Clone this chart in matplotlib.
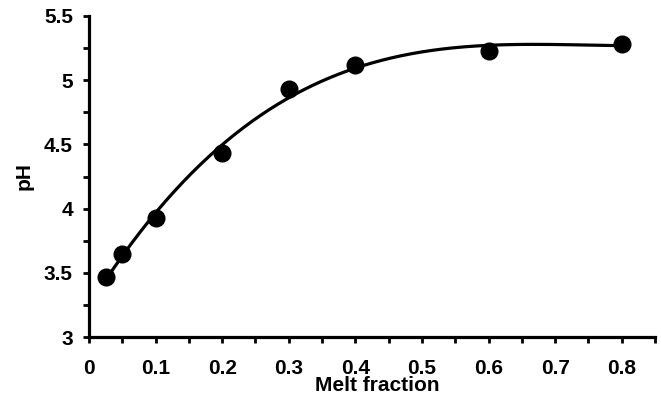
import numpy as np
import matplotlib
matplotlib.use("Agg")
import matplotlib.pyplot as plt
from matplotlib.ticker import MultipleLocator, FuncFormatter

# measured values
melt_fraction = [0.025, 0.05, 0.1, 0.2, 0.3, 0.4, 0.6, 0.8]
ph = [3.47, 3.645, 3.925, 4.435, 4.93, 5.12, 5.23, 5.28]

plt.rcParams["font.family"] = ["Liberation Sans", "DejaVu Sans"]
plt.rcParams["font.weight"] = "bold"

fig = plt.figure(figsize=(6.61, 3.98), dpi=100)
ax = fig.add_axes([0.1346, 0.153, 0.991 - 0.1346, 0.960 - 0.153])

# polynomial trendline (3rd order) through the measured points
coef = np.polyfit(melt_fraction, ph, 3)
xs = np.linspace(min(melt_fraction), max(melt_fraction), 300)
ax.plot(xs, np.polyval(coef, xs), color="black", lw=2.3, zorder=2)
ax.plot(melt_fraction, ph, "o", color="black", ms=12, zorder=3)

ax.set_xlim(0, 0.85)
ax.set_ylim(3, 5.5)
ax.xaxis.set_major_locator(MultipleLocator(0.1))
ax.xaxis.set_minor_locator(MultipleLocator(0.05))
ax.yaxis.set_major_locator(MultipleLocator(0.5))
ax.yaxis.set_minor_locator(MultipleLocator(0.25))
ax.xaxis.set_major_formatter(FuncFormatter(lambda v, p: f"{v:g}" if v <= 0.81 else ""))
ax.yaxis.set_major_formatter(FuncFormatter(lambda v, p: f"{v:g}"))

for side in ["top", "right"]:
    ax.spines[side].set_visible(False)
for side in ["left", "bottom"]:
    ax.spines[side].set_linewidth(2.3)

ax.tick_params(which="both", direction="out", length=4.5, width=2, labelsize=15)
ax.tick_params(axis="x", which="both", pad=11)
ax.tick_params(axis="y", which="both", pad=7)
for lbl in ax.get_xticklabels() + ax.get_yticklabels():
    lbl.set_fontweight("bold")

ax.set_xlabel("Melt fraction", fontsize=15, fontweight="bold", va="center")
ax.xaxis.set_label_coords(0.5095, -0.152)
ax.set_ylabel("pH", fontsize=15, fontweight="bold", va="center")
ax.yaxis.set_label_coords(-0.114, 0.5)

plt.savefig("out.png", dpi=100)
plt.close()
